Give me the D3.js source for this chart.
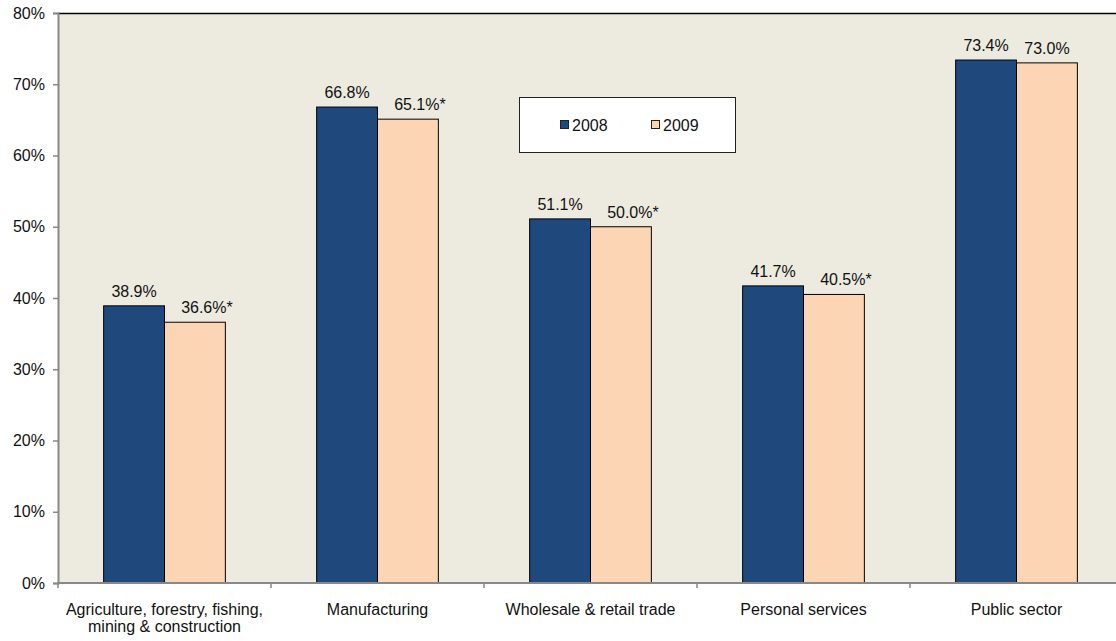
<!DOCTYPE html>
<html><head><meta charset="utf-8">
<script src="https://cdn.jsdelivr.net/npm/d3@7"></script>
<style>
body{margin:0;background:#fff;}
svg{display:block;font-family:"Liberation Sans",Arial,Helvetica,sans-serif;}
</style></head>
<body>
<svg id="chart" width="1116" height="641"></svg>
<script>
const categories = [["Agriculture, forestry, fishing,","mining & construction"],["Manufacturing"],["Wholesale & retail trade"],["Personal services"],["Public sector"]];
const seriesNames = ["2008","2009"];
const values2008 = [38.9, 66.8, 51.1, 41.7, 73.4];
const values2009 = [36.6, 65.1, 50.0, 40.5, 73.0];
const labels2008 = ["38.9%","66.8%","51.1%","41.7%","73.4%"];
const labels2009 = ["36.6%*","65.1%*","50.0%*","40.5%*","73.0%"];
const yTicks = [0,10,20,30,40,50,60,70,80];
const colors = ["#1F497D","#FCD5B4"];

const svg = d3.select("#chart");
const pLeft = 58, pTop = 13, pBottom = 583, pRight = 1123;
const x0 = d3.scaleBand().domain(d3.range(categories.length)).range([pLeft,pRight]).paddingInner(0).paddingOuter(0);
const y = d3.scaleLinear().domain([0,80]).range([pBottom,pTop]);
const bw = x0.bandwidth()/3.5;
const x1 = d3.scaleBand().domain([0,1]).range([0,2*bw]);

svg.append("rect").attr("x",pLeft).attr("y",pTop).attr("width",pRight-pLeft).attr("height",pBottom-pTop).attr("fill","#EDEBE0");
svg.append("line").attr("x1",pLeft).attr("x2",pRight).attr("y1",pTop+0.5).attr("y2",pTop+0.5).attr("stroke","#000").attr("stroke-width",1.5);

const series = [values2008, values2009];
const labs = [labels2008, labels2009];
series.forEach((vals,si)=>{
  svg.append("g").selectAll("rect").data(vals).join("rect")
    .attr("x",(d,i)=>x0(i)+x0.bandwidth()/2-bw+x1(si))
    .attr("y",d=>y(d))
    .attr("width",bw)
    .attr("height",d=>pBottom-y(d))
    .attr("fill",colors[si]).attr("stroke","#000").attr("stroke-width",1);
  svg.append("g").selectAll("text").data(vals).join("text")
    .attr("x",(d,i)=>x0(i)+x0.bandwidth()/2-bw+x1(si)+bw/2 + (labs[si][i].endsWith("*")?12:0))
    .attr("y",d=>y(d)-9)
    .attr("text-anchor","middle").attr("font-size",16).attr("fill","#111")
    .text((d,i)=>labs[si][i]);
});

// y axis
const yAxis = d3.axisLeft(y).tickValues(yTicks).tickFormat(d=>d+"%").tickSize(5).tickPadding(8);
const gy = svg.append("g").attr("transform",`translate(${pLeft},0)`).call(yAxis);
gy.select(".domain").attr("stroke","#888").attr("stroke-width",2);
gy.selectAll(".tick line").attr("stroke","#888").attr("stroke-width",1.5);
gy.selectAll(".tick text").attr("font-size",16).attr("fill","#111").attr("font-family","Liberation Sans, Arial, sans-serif");

// x axis
svg.append("line").attr("x1",pLeft-1).attr("x2",pRight).attr("y1",pBottom).attr("y2",pBottom).attr("stroke","#888").attr("stroke-width",2);
svg.append("g").selectAll("line").data(d3.range(categories.length+1)).join("line")
  .attr("x1",i=>pLeft+i*x0.bandwidth()).attr("x2",i=>pLeft+i*x0.bandwidth())
  .attr("y1",pBottom).attr("y2",pBottom+5).attr("stroke","#888").attr("stroke-width",1.5);
const xl = svg.append("g").selectAll("text").data(categories).join("text")
  .attr("x",(d,i)=>x0(i)+x0.bandwidth()/2).attr("y",615)
  .attr("text-anchor","middle").attr("font-size",16).attr("fill","#111");
xl.each(function(d){
  const t = d3.select(this);
  d.forEach((line,j)=>t.append("tspan").attr("x",t.attr("x")).attr("dy",j===0?0:17).text(line));
});

// legend
const lg = svg.append("g");
lg.append("rect").attr("x",519.5).attr("y",97.5).attr("width",216).attr("height",55).attr("fill","#fff").attr("stroke","#222").attr("stroke-width",1);
const lx = [560, 651];
seriesNames.forEach((n,i)=>{
  lg.append("rect").attr("x",lx[i]+0.5).attr("y",120.5).attr("width",8).attr("height",8).attr("fill",colors[i]).attr("stroke","#222");
  lg.append("text").attr("x",lx[i]+12).attr("y",131).attr("font-size",16).attr("fill","#111").text(n);
});
</script>
</body></html>
